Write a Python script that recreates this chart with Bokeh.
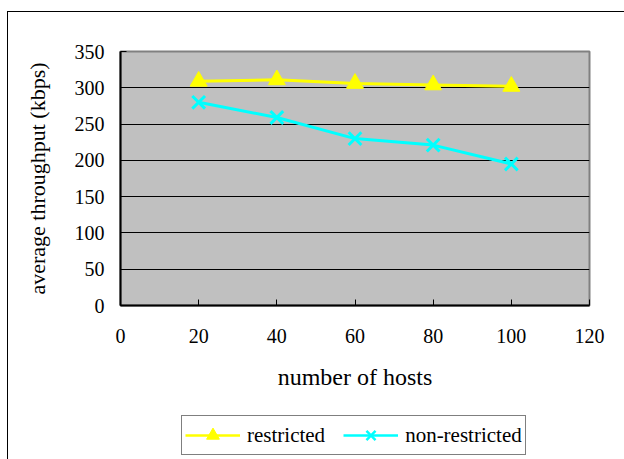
from bokeh.plotting import figure
from bokeh.models import FixedTicker, Legend, LegendItem, Range1d
from bokeh.layouts import column
from bokeh.embed import file_html
from bokeh.resources import INLINE

hosts = [20, 40, 60, 80, 100]
restricted = [309, 311, 306, 304, 302]
non_restricted = [280, 259, 230, 221, 195]
x_ticks = [0, 20, 40, 60, 80, 100, 120]
y_ticks = [0, 50, 100, 150, 200, 250, 300, 350]

FONT = "Liberation Serif"
YELLOW = "#FFFF00"
CYAN = "#00FFFF"

p = figure(width=616, height=403, output_backend="svg", toolbar_location=None,
           x_range=Range1d(0, 120), y_range=Range1d(0, 350),
           min_border_left=112, min_border_right=35, min_border_top=39,
           min_border_bottom=110)
p.background_fill_color = "#C0C0C0"
p.border_fill_color = "#FFFFFF"
p.outline_line_color = "#808080"
p.outline_line_width = 2

p.xgrid.visible = False
p.ygrid.grid_line_color = "#000000"
p.ygrid.grid_line_width = 1
p.ygrid.ticker = FixedTicker(ticks=y_ticks)

p.xaxis.ticker = FixedTicker(ticks=x_ticks)
p.yaxis.ticker = FixedTicker(ticks=y_ticks)
for ax in (p.xaxis[0], p.yaxis[0]):
    ax.axis_line_color = "#000000"
    ax.axis_line_width = 2
    ax.major_tick_line_color = "#000000"
    ax.major_tick_line_width = 1
    ax.major_tick_in = 6
    ax.major_tick_out = 0
    ax.minor_tick_line_color = None
    ax.major_label_text_font = FONT
    ax.major_label_text_font_size = "20px"
    ax.major_label_text_color = "#000000"
    ax.axis_label_text_font = FONT
    ax.axis_label_text_font_style = "normal"
    ax.axis_label_text_color = "#000000"

p.xaxis.axis_label = "number of hosts"
p.yaxis.axis_label = "average throughput (kbps)"
p.xaxis.axis_label_text_font_size = "24px"
p.yaxis.axis_label_text_font_size = "22px"
p.xaxis.major_label_standoff = 23
p.xaxis.axis_label_standoff = 18
p.yaxis.major_label_standoff = 16
p.yaxis.axis_label_standoff = 22

p.line(hosts, restricted, line_color=YELLOW, line_width=3)
p.scatter(hosts, restricted, marker="triangle", size=17,
          fill_color=YELLOW, line_color=YELLOW)
p.line(hosts, non_restricted, line_color=CYAN, line_width=3)
p.scatter(hosts, non_restricted, marker="x", size=18,
          line_color=CYAN, line_width=3)

# legend strip below the chart; its frame is aligned with the chart frame,
# the series are drawn out of its (tiny) range so only the legend shows
pl = figure(width=616, height=44, output_backend="svg", toolbar_location=None,
            x_range=Range1d(-2, -1), y_range=Range1d(-2, -1),
            x_axis_type=None, y_axis_type=None,
            min_border_left=0, min_border_right=0, min_border_top=0,
            min_border_bottom=0)
pl.outline_line_color = None
pl.grid.visible = False
pl.background_fill_color = "#FFFFFF"
pl.border_fill_color = "#FFFFFF"
g1 = pl.line(hosts, restricted, line_color=YELLOW, line_width=2.5)
g1m = pl.scatter(hosts, restricted, marker="triangle", size=17,
                 fill_color=YELLOW, line_color=YELLOW)
g2 = pl.line(hosts, non_restricted, line_color=CYAN, line_width=2.5)
g2m = pl.scatter(hosts, non_restricted, marker="x", size=18,
                 line_color=CYAN, line_width=2.5)

legend = Legend(items=[LegendItem(label="restricted", renderers=[g1, g1m]),
                       LegendItem(label="non-restricted", renderers=[g2, g2m])],
                orientation="horizontal", location=(61, 4))
legend.label_text_font = FONT
legend.label_text_font_size = "21px"
legend.label_text_color = "#000000"
legend.glyph_width = 55
legend.glyph_height = 32
legend.label_standoff = 7
legend.spacing = 18
legend.padding = 3
legend.margin = 0
legend.border_line_color = "#000000"
legend.border_line_width = 1
legend.background_fill_color = "#FFFFFF"
legend.background_fill_alpha = 1
pl.add_layout(legend, "center")

layout = column(p, pl, spacing=0)
layout.styles = {"margin-left": "7px", "margin-top": "11px",
                 "border-left": "1px solid #000000",
                 "border-top": "1px solid #000000"}
open("out.html", "w").write(file_html(layout, INLINE))
